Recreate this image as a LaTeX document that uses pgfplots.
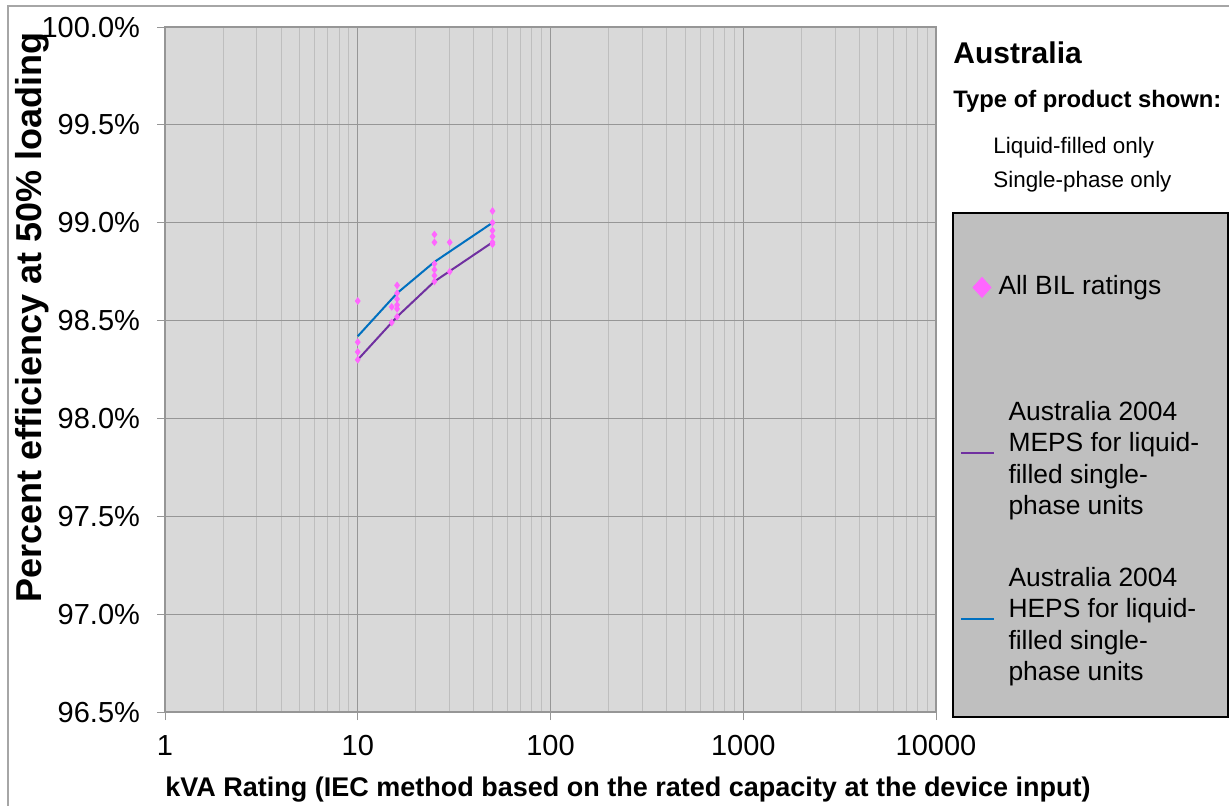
\documentclass[border=0pt]{standalone}
\usepackage{fontspec}
\setmainfont{Liberation Sans}
\usepackage{pgfplots}
\pgfplotsset{compat=1.18}
\definecolor{pinkc}{HTML}{FF66FF}
\definecolor{mepsc}{HTML}{7030A0}
\definecolor{hepsc}{HTML}{0070C0}
\definecolor{plotbg}{HTML}{D9D9D9}
\definecolor{legbg}{HTML}{BFBFBF}
\definecolor{majgrid}{HTML}{969696}
\definecolor{mingrid}{HTML}{BEBEBE}
\definecolor{outer}{HTML}{A6A6A6}

\pgfplotstableread{
x y
10 98.60
10 98.39
10 98.34
10 98.30
15 98.57
15 98.49
16 98.68
16 98.64
16 98.61
16 98.58
16 98.56
16 98.52
25 98.94
25 98.90
25 98.79
25 98.76
25 98.73
25 98.70
30 98.90
30 98.75
50 99.06
50 99.00
50 98.96
50 98.93
50 98.90
50 98.89
}\biltable

\begin{document}
\begin{tikzpicture}
\useasboundingbox (0pt,0pt) rectangle (614.5pt,-402.5pt);
\draw[color=outer, line width=0.6pt] (4pt,-430pt) -- (4pt,-3pt) -- (640pt,-3pt);
\draw[black, line width=0.9pt, fill=legbg] (476.5pt,-106.5pt) rectangle (613.8pt,-358.5pt);
\node[anchor=west, inner sep=0pt, font=\bfseries\fontsize{15}{18}\selectfont] at (476.5pt,-26.5pt) {Australia};
\node[anchor=west, inner sep=0pt, font=\bfseries\fontsize{11.9}{14}\selectfont] at (476.5pt,-50.5pt) {Type of product shown:};
\node[anchor=west, inner sep=0pt, font=\fontsize{11.2}{13}\selectfont] at (496.5pt,-74pt) {Liquid-filled only};
\node[anchor=west, inner sep=0pt, font=\fontsize{11.2}{13}\selectfont] at (496.5pt,-91pt) {Single-phase only};
\begin{axis}[
  at={(82.5pt,-356pt)}, anchor=south west,
  scale only axis, width=385.5pt, height=342.5pt,
  xmode=log, xmin=1, xmax=10000, ymin=96.5, ymax=100,
  axis background/.style={fill=plotbg},
  xtick={1,10,100,1000,10000},
  xticklabels={1,10,100,1000,10000},
  minor xtick={2,3,...,9,20,30,...,90,200,300,...,900,2000,3000,...,9000},
  ytick={96.5,97.0,97.5,98.0,98.5,99.0,99.5,100.0},
  xmajorgrids, xminorgrids, ymajorgrids,
  major grid style={majgrid, line width=0.5pt},
  minor grid style={mingrid, line width=0.5pt},
  axis line style={majgrid, line width=0.6pt},
  tick align=outside, tick pos=left,
  major tick length=4pt, minor tick length=0pt,
  tick style={majgrid, line width=0.5pt},
  ticklabel style={font=\fontsize{14.5}{16}\selectfont},
  /pgf/number format/assume math mode=true,
  yticklabel={\pgfmathprintnumber[fixed,fixed zerofill,precision=1]{\tick}\%},
  xticklabel style={yshift=-4pt},
  yticklabel style={xshift=-5pt},
  xlabel={kVA Rating (IEC method based on the rated capacity at the device input)},
  ylabel={Percent efficiency at 50\% loading},
  xlabel style={at={(rel axis cs:0.6005,-0.1139)}, anchor=center, font=\bfseries\fontsize{13.5}{15}\selectfont},
  ylabel style={at={(rel axis cs:-0.1725,0.5759)}, anchor=center, font=\bfseries\fontsize{18}{20}\selectfont},
  legend style={at={(rel axis cs:1.031,0.7416)}, anchor=north west, fill=none, draw=none,
    font=\fontsize{13.2}{15.7}\selectfont, inner sep=0pt, nodes={inner sep=0pt}},
  legend cell align=left,
]
\addplot[only marks, mark=diamond*, mark size=1.6pt, mark options={fill=pinkc, draw=pinkc},
  legend image code/.code={\path[draw=none,fill=none] (0pt,41.5pt) (0pt,-41.5pt);
    \fill[pinkc] (5.8pt,0pt) -- (10.3pt,5pt) -- (14.8pt,0pt) -- (10.3pt,-5pt) -- cycle;}]
  table[x=x,y=y] {\biltable};
\addlegendentry{\raisebox{-4.5pt}[0pt][0pt]{\hspace{1.5pt}All BIL ratings}}
\addplot[mepsc, line width=1pt, no marks,
  legend image code/.code={\path[draw=none,fill=none] (0pt,41.5pt) (0pt,-41.5pt);
    \draw[draw=mepsc, line width=1.1pt] (0pt,0.3pt) -- (16.5pt,0.3pt);}]
  coordinates {(10,98.30) (16,98.52) (25,98.70) (50,98.90)};
\addlegendentry{\raisebox{-7.6pt}[0pt][0pt]{\begin{tabular}{@{\hspace{6.5pt}}l@{}}Australia 2004\\MEPS for liquid-\\filled single-\\phase units\end{tabular}}}
\addplot[hepsc, line width=1pt, no marks,
  legend image code/.code={\path[draw=none,fill=none] (0pt,41.5pt) (0pt,-41.5pt);
    \draw[draw=hepsc, line width=1.1pt] (0pt,0.3pt) -- (16.5pt,0.3pt);}]
  coordinates {(10,98.42) (16,98.64) (25,98.80) (50,99.00)};
\addlegendentry{\raisebox{-7.6pt}[0pt][0pt]{\begin{tabular}{@{\hspace{6.5pt}}l@{}}Australia 2004\\HEPS for liquid-\\filled single-\\phase units\end{tabular}}}
\end{axis}
\end{tikzpicture}
\end{document}
